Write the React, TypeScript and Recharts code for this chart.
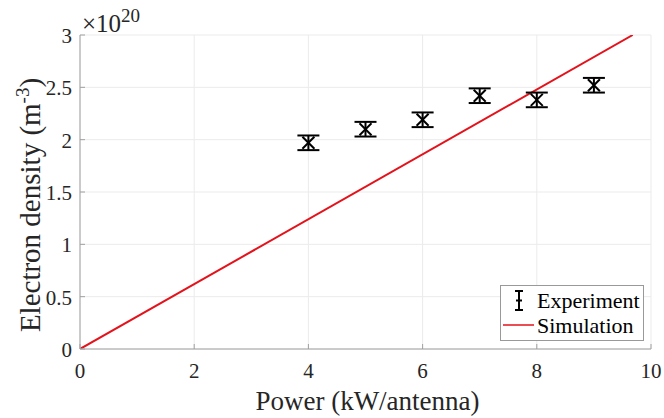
import React from 'react';
import {
  ComposedChart,
  Scatter,
  Line,
  XAxis,
  YAxis,
  CartesianGrid,
  ErrorBar,
  Legend,
  Label,
} from 'recharts';

// measured data (units of 1e20 m^-3)
const powers = [4, 5, 6, 7, 8, 9];
const densities = [1.97, 2.1, 2.19, 2.42, 2.38, 2.52];
const errors = [0.07, 0.07, 0.07, 0.07, 0.07, 0.07];

// simulation line endpoints
const simPower = [0, 9.68];
const simDensity = [0, 3];

const xTicks = [0, 2, 4, 6, 8, 10];
const yTicks = [0, 0.5, 1, 1.5, 2, 2.5, 3];

const expData = powers.map((p, i) => ({ x: p, y: densities[i], err: errors[i] }));
const simData = simPower.map((p, i) => ({ x: p, y: simDensity[i] }));

const FONT = 'Liberation Serif, serif';
const TEXT = '#262626';
const AXIS = '#a0a0a0';
const RED = '#e3121b';

const CrossShape = (props: any) => {
  const { cx, cy } = props;
  const s = 6;
  return (
    <g stroke="#000" strokeWidth={2}>
      <line x1={cx - s} y1={cy - s} x2={cx + s} y2={cy + s} />
      <line x1={cx - s} y1={cy + s} x2={cx + s} y2={cy - s} />
    </g>
  );
};

const XTick = (props: any) => {
  const { x, y, payload } = props;
  return (
    <text x={x} y={y + 32} textAnchor="middle" style={{ fontFamily: FONT, fontSize: 21, fill: TEXT }}>
      {payload.value}
    </text>
  );
};

const YTick = (props: any) => {
  const { x, y, payload } = props;
  return (
    <text x={x - 11} y={y + 8} textAnchor="end" style={{ fontFamily: FONT, fontSize: 21, fill: TEXT }}>
      {payload.value}
    </text>
  );
};

const LegendBox = () => (
  <svg
    width={144}
    height={56}
    style={{ position: 'absolute', left: 500, top: 285, fontFamily: FONT }}
  >
    <rect x={0.5} y={0.5} width={143} height={55} fill="#fff" stroke="#999" />
    <g stroke="#000" strokeWidth={2}>
      <line x1={19} y1={6} x2={19} y2={25} />
      <line x1={15} y1={6} x2={23} y2={6} />
      <line x1={15} y1={25} x2={23} y2={25} />
      <line x1={16} y1={15.5} x2={22} y2={15.5} />
    </g>
    <text x={37} y={23} style={{ fontFamily: FONT, fontSize: 22, fill: '#000' }}>
      Experiment
    </text>
    <line x1={3} y1={40} x2={34} y2={40} stroke={RED} strokeWidth={1.5} />
    <text x={37} y={48} style={{ fontFamily: FONT, fontSize: 22, fill: '#000' }}>
      Simulation
    </text>
  </svg>
);

const YLabel = () => {
  const cx = 40;
  const cy = 205;
  return (
    <text
      x={cx}
      y={cy}
      transform={`rotate(-90, ${cx}, ${cy})`}
      textAnchor="middle"
      style={{ fontFamily: FONT, fontSize: 29, fill: TEXT }}
    >
      Electron density (m
      <tspan dy={-11} style={{ fontSize: 19 }}>-3</tspan>
      <tspan dy={11}>)</tspan>
    </text>
  );
};

const XLabel = (props: any) => {
  const { viewBox } = props;
  return (
    <text
      x={viewBox.x + viewBox.width / 2 + 2}
      y={410}
      textAnchor="middle"
      style={{ fontFamily: FONT, fontSize: 27, fill: TEXT }}
    >
      Power (kW/antenna)
    </text>
  );
};

export default function App() {
  return (
    <div style={{ position: 'absolute', left: 0, top: 0, width: 664, height: 418, background: '#fff' }}>
      <ComposedChart
        width={664}
        height={418}
        margin={{ top: 35, right: 13, left: 0, bottom: 0 }}
      >
        <CartesianGrid stroke="#ebebeb" strokeWidth={1} />
        <XAxis
          dataKey="x"
          type="number"
          domain={[0, 10]}
          ticks={xTicks}
          height={69}
          allowDataOverflow
          axisLine={{ stroke: AXIS }}
          tickLine={{ stroke: AXIS }}
          tickSize={-5}
          tickMargin={2}
          tick={<XTick />}
        >
          <Label content={<XLabel />} />
        </XAxis>
        <XAxis
          xAxisId="top"
          orientation="top"
          type="number"
          domain={[0, 10]}
          ticks={xTicks}
          height={0}
          tick={false}
          tickSize={-5}
          tickLine={{ stroke: AXIS }}
          axisLine={{ stroke: AXIS }}
        />
        <YAxis
          type="number"
          domain={[0, 3]}
          ticks={yTicks}
          width={80}
          allowDataOverflow
          axisLine={{ stroke: AXIS }}
          tickLine={{ stroke: AXIS }}
          tickSize={-5}
          tickMargin={2}
          tick={<YTick />}
        >
          <Label content={<YLabel />} />
        </YAxis>
        <YAxis
          yAxisId="right"
          orientation="right"
          type="number"
          domain={[0, 3]}
          ticks={yTicks}
          width={0}
          tick={false}
          tickSize={-5}
          tickLine={{ stroke: AXIS }}
          axisLine={{ stroke: AXIS }}
        />
        <Line
          data={simData}
          dataKey="y"
          type="linear"
          stroke={RED}
          strokeWidth={2}
          dot={false}
          isAnimationActive={false}
        />
        <Scatter data={expData} dataKey="y" shape={<CrossShape />} isAnimationActive={false}>
          <ErrorBar dataKey="err" direction="y" width={11} stroke="#000" strokeWidth={2} />
        </Scatter>
        <Legend
          layout="horizontal"
          verticalAlign="middle"
          align="center"
          content={<LegendBox />}
          wrapperStyle={{ left: 0, top: 0, width: 664, height: 0 }}
        />
      </ComposedChart>
      <svg width={160} height={36} style={{ position: 'absolute', left: 0, top: 0 }}>
        <text x={82} y={32} style={{ fontFamily: FONT, fontSize: 25, fill: TEXT }}>
          ×10
          <tspan dy={-10} style={{ fontSize: 19 }}>20</tspan>
        </text>
      </svg>
    </div>
  );
}
